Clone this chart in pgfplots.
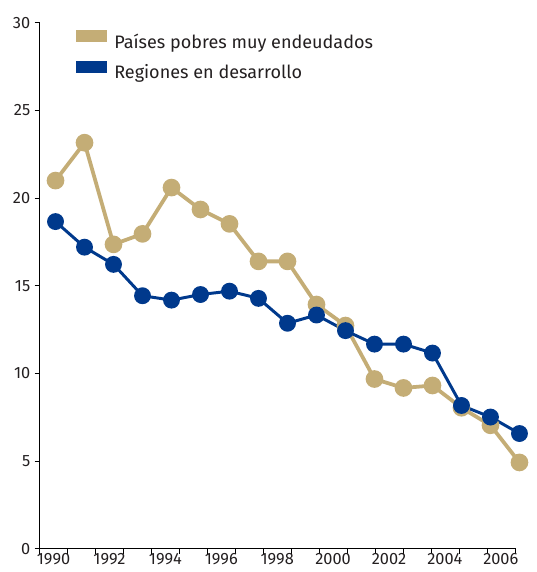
\documentclass[border=0pt]{standalone}
\usepackage{pgfplots}
\pgfplotsset{compat=1.18}
\usepackage{fontspec}
\setmainfont{Fira Sans}
\definecolor{gold}{RGB}{196,173,118}
\definecolor{navy}{RGB}{0,57,140}
\definecolor{txt}{RGB}{35,31,32}
\newcommand{\tickfont}{\fontsize{16.5}{18}\selectfont}
\begin{document}
\begin{tikzpicture}
\useasboundingbox (-40pt,-23.5pt) rectangle (501pt,553.5pt);
\begin{axis}[
  scale only axis,
  width=481pt, height=530.5pt,
  xmin=1989.453, xmax=2005.897,
  ymin=0, ymax=30,
  clip=false,
  axis lines*=left,
  axis line style={black, line width=0.8pt, -},
  every tick/.style={black, line width=0.8pt},
  major tick length=5pt,
  tick align=outside,
  xtick={1989.453,1990.417,1991.381,1992.345,1993.310,1994.274,1995.238,1996.202,1997.166,1998.130,1999.094,2000.058,2001.022,2001.986,2002.950,2003.915,2004.879,2005.843},
  xticklabels={},
  extra x ticks={1989.932,1991.860,1993.788,1995.716,1997.644,1999.572,2001.500,2003.428,2005.356},
  extra x tick labels={\tickfont 1990,\tickfont 1992,\tickfont 1994,\tickfont 1996,\tickfont 1998,\tickfont 2000,\tickfont 2002,\tickfont 2004,\tickfont 2006},
  extra x tick style={major tick length=0pt, xticklabel style={yshift=-1pt}},
  ytick={0,5,10,15,20,25,30},
  yticklabels={\tickfont 0,\tickfont 5,\tickfont 10,\tickfont 15,\tickfont 20,\tickfont 25,\tickfont 30},
  yticklabel style={xshift=-1pt},
  tick label style={text=txt},
  legend style={at={(0.075,0.987)}, anchor=north west, draw=none, fill=none,
    font=\fontsize{18.2}{20}\selectfont, text=txt, row sep=11pt, inner sep=0pt,
    nodes={inner sep=0pt}},
  legend cell align=left,
  legend image code/.code={\fill[#1, draw=none] (0pt,-0.5pt) rectangle (32pt,12pt);},
  legend style={/tikz/every odd column/.append style={column sep=7pt}},
]
\addplot[gold, line width=3.8pt, mark=*, mark size=7pt, mark options={solid, fill=gold, draw=none}] coordinates {
(1990,21.0)(1991,23.16)(1992,17.36)(1993,17.96)(1994,20.6)(1995,19.35)(1996,18.53)(1997,16.39)(1998,16.39)(1999,13.93)(2000,12.73)(2001,9.68)(2002,9.17)(2003,9.31)(2004,8.04)(2005,7.04)(2006,4.92)};
\addlegendentry{Países pobres muy endeudados}
\addplot[navy, line width=3pt, mark=*, mark size=7pt, mark options={solid, fill=navy, draw=none}] coordinates {
(1990,18.66)(1991,17.2)(1992,16.22)(1993,14.43)(1994,14.18)(1995,14.5)(1996,14.69)(1997,14.28)(1998,12.86)(1999,13.33)(2000,12.44)(2001,11.67)(2002,11.67)(2003,11.16)(2004,8.17)(2005,7.51)(2006,6.57)};
\addlegendentry{Regiones en desarrollo}
\end{axis}
\end{tikzpicture}
\end{document}
